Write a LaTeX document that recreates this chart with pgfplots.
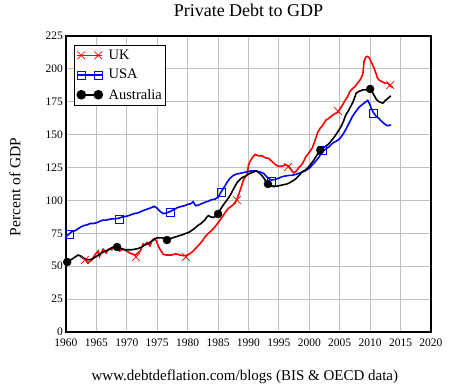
\documentclass[border=0pt]{standalone}
\usepackage{fontspec}
\setmainfont{Liberation Serif}
\usepackage{pgfplots}
\pgfplotsset{compat=1.18}
\pgfplotsset{endmarks/.style={legend image code/.code={\draw[##1,mark=none] (0pt,0pt) -- (25pt,0pt); \draw[##1] plot[only marks] coordinates {(4pt,0pt) (21pt,0pt)};}}}
\begin{document}
\begin{tikzpicture}
\path[use as bounding box] (0,0) rectangle (451pt,385pt);
\begin{axis}[
  at={(66pt,53pt)}, anchor=south west,
  scale only axis, width=365pt, height=296pt,
  xmin=1960, xmax=2020, ymin=0, ymax=225,
  xtick={1960,1965,1970,1975,1980,1985,1990,1995,2000,2005,2010,2015,2020},
  ytick={0,25,50,75,100,125,150,175,200,225},
  grid=major, grid style={gray!50, line width=0.9pt},
  axis line style={line width=1.3pt},
  major tick length=0pt,
  tick label style={font=\fontsize{11.5}{13}\selectfont},
  /pgf/number format/assume math mode=true,
  /pgf/number format/1000 sep={},
  xticklabel style={anchor=base, yshift=-15pt},
  yticklabel style={anchor=east, inner xsep=0pt, xshift=-3pt},
  title={Private Debt to GDP},
  title style={at={(axis description cs:0.5,1)}, anchor=base, yshift=13pt, font=\fontsize{18}{20}\selectfont},
  xlabel={www.debtdeflation.com/blogs (BIS \& OECD data)},
  xlabel style={at={(axis description cs:0.49,0)}, anchor=base, yshift=-49pt, font=\fontsize{15}{17}\selectfont},
  ylabel={Percent of GDP},
  every axis y label/.style={at={(axis description cs:-0.1397,0.49)}, rotate=90, anchor=center, font=\fontsize{15.5}{17}\selectfont},
  legend style={at={(axis description cs:0.022,0.97)}, anchor=north west, draw=black, line width=1pt, fill=white,
    font=\fontsize{14.5}{16}\selectfont, inner xsep=2pt, inner ysep=3pt, row sep=5.5pt, column sep=4pt,
    nodes={inner sep=1.5pt}},
  legend cell align=left,
]
% UK
\addplot[red, line width=1.6pt, forget plot] coordinates {
(1962.4,57.5)(1962.8,56)(1963.2,55)(1963.6,52.5)(1964.0,54)(1964.3,55)(1964.8,59)(1965.3,61.5)(1965.5,57.5)
(1966.1,63)(1966.6,60)(1967.0,63)(1967.5,62.5)(1968.0,65)(1968.3,64)(1968.8,61.5)(1969.4,63)(1970.0,61.5)
(1970.5,60)(1971.0,59)(1971.4,58.5)(1971.8,60)(1972.2,61.5)(1972.7,67)(1973.0,66)(1973.3,68)(1973.8,65.5)
(1974.2,70)(1974.5,71)(1974.9,69)(1975.2,65)(1975.5,62.5)(1976.0,59)(1976.5,58.5)(1977.4,58.5)(1978.0,59.5)
(1978.7,58.5)(1979.3,58)(1980.0,58.5)(1980.5,60)(1980.9,61.5)(1981.7,65.5)(1982.3,68.5)(1982.8,72)(1983.4,75)
(1983.9,77)(1984.5,80)(1985.0,83)(1985.7,87.5)(1986.2,91)(1986.7,94)(1987.3,96)(1987.8,98)(1988.1,101)(1988.5,106)
(1988.8,110)(1989.2,116)(1989.8,120)(1990.0,127)(1990.3,130)(1990.7,133)(1991.1,135)(1991.6,134)(1992.2,134)
(1992.7,132.5)(1993.3,132)(1994.0,129)(1994.5,127)(1994.9,126)(1995.5,126)(1996.0,127)(1996.5,126.5)(1996.9,124)
(1997.4,121)(1997.8,122)(1998.2,124.5)(1998.7,127)(1999.0,129)(1999.4,133)(1999.9,136)(2000.5,140)(2000.9,145)
(2001.4,152)(2001.8,155)(2002.2,157)(2002.7,161)(2003.1,162)(2003.6,164)(2004.2,166)(2004.7,167)(2005.1,170)
(2005.5,173)(2006.0,177)(2006.3,179)(2006.7,183)(2007.1,185)(2007.5,186.5)(2007.9,189)(2008.4,192)(2008.8,196)
(2009.0,206)(2009.3,209)(2009.6,209.5)(2009.9,208)(2010.1,206)(2010.4,203)(2010.7,200)(2011.0,196)(2011.2,193)
(2011.6,191)(2012.1,190)(2012.5,189)(2012.9,189)(2013.3,187)(2013.7,186)
};
\addplot[red, only marks, mark=x, mark size=5.5pt, mark options={red, line width=0.7pt}, forget plot] coordinates {
(1963.1,54.7)(1971.5,57)(1979.7,57)(1988.1,100.3)(1996.5,125.4)(2004.7,168)(2013.3,187.7)
};
% USA
\addplot[blue, line width=1.6pt, forget plot] coordinates {
(1960.0,72.5)(1960.5,74.5)(1961.0,76.5)(1961.5,77)(1962.0,78.5)(1962.5,80)(1963.0,81)(1963.5,81.5)(1964.0,82.5)
(1964.5,82.5)(1965.0,83)(1965.5,84)(1966.0,85)(1966.5,85)(1967.0,85.5)(1967.5,86)(1968.0,86)(1968.7,86.5)
(1969.3,87.5)(1970.0,88)(1970.6,89)(1971.2,90)(1971.8,90.5)(1972.3,91.5)(1972.8,92.5)(1973.4,93.5)(1974.0,94.5)
(1974.5,95.5)(1975.0,94)(1975.5,91.5)(1976.0,90)(1976.5,90.5)(1977.1,91.5)(1977.7,93)(1978.3,94.5)(1979.0,95.5)
(1979.5,96)(1980.0,97)(1980.5,97.5)(1980.9,99)(1981.3,96)(1981.8,96.5)(1982.3,97.5)(1982.8,98.5)(1983.4,99.5)
(1983.9,100.5)(1984.5,101)(1985.0,102.5)(1985.5,106.5)(1986.0,110)(1986.5,114)(1987.0,117)(1987.5,119)(1988.0,120)
(1988.5,120.5)(1989.0,121)(1989.5,121.5)(1990.0,122)(1990.5,122.5)(1991.0,122.5)(1991.5,122)(1992.0,121.5)
(1992.5,120.5)(1993.0,118)(1993.4,116.5)(1993.8,115.5)(1994.4,116)(1995.0,117)(1995.5,118)(1996.0,118.5)
(1996.6,119)(1997.1,119)(1997.9,120)(1998.5,121)(1999.3,122.5)(2000.0,124.5)(2000.5,127)(2001.0,129.5)
(2001.6,133)(2002.1,137)(2002.7,139)(2003.3,141)(2003.8,143.5)(2004.4,145)(2004.9,146.5)(2005.5,150)(2006.0,154)
(2006.5,158.5)(2007.1,164)(2007.7,168)(2008.2,171)(2008.6,172.5)(2009.0,174)(2009.3,175)(2009.6,176)(2009.9,173.5)
(2010.1,171)(2010.5,167)(2010.9,164.5)(2011.5,162)(2011.9,160)(2012.3,158.5)(2012.7,157)(2013.1,157)(2013.4,157.5)
};
\addplot[blue, only marks, mark=square, mark size=4pt, mark options={blue, line width=0.8pt}, forget plot] coordinates {
(1960.5,74.5)(1968.7,85.9)(1977.1,91.2)(1985.5,106.4)(1993.7,114.8)(2002.1,138.3)(2010.5,166.5)
};
% Australia
\addplot[black, line width=1.6pt, forget plot] coordinates {
(1960.0,53)(1960.5,54)(1961.0,55.5)(1961.5,57)(1962.0,58.5)(1962.5,57.5)(1963.0,56)(1963.5,55)(1964.0,55)
(1964.5,56)(1965.0,57.5)(1965.5,59)(1966.0,60.5)(1966.5,61.5)(1967.0,62.5)(1967.5,64)(1968.0,65)(1968.4,65)
(1968.8,64)(1969.3,63)(1969.8,62.5)(1970.3,62.5)(1970.8,62.5)(1971.4,63)(1971.9,63.5)(1972.4,64.5)(1972.9,66)
(1973.4,67)(1973.9,68.5)(1974.4,70)(1974.9,71.5)(1975.4,71.5)(1975.9,71.5)(1976.6,70.5)(1977.2,71)(1977.8,72)
(1978.5,73)(1979.2,74)(1979.7,75)(1980.1,75.5)(1980.6,77)(1981.2,79)(1981.7,81)(1982.2,82.5)(1982.8,85)
(1983.1,87)(1983.4,88.5)(1983.8,87.5)(1984.2,87)(1984.6,88)(1985.0,90)(1985.5,94)(1986.0,97.5)(1986.5,100.5)
(1987.0,104)(1987.4,107.5)(1987.8,111)(1988.2,114)(1988.6,116)(1989.0,117.5)(1989.5,118.5)(1990.0,120)
(1990.5,121)(1991.0,122)(1991.3,122.5)(1991.7,121)(1992.2,119)(1992.6,116.5)(1992.9,114)(1993.2,112.5)
(1993.7,111)(1994.2,110.5)(1994.8,111)(1995.3,111.5)(1995.8,112)(1996.3,112.5)(1996.8,113.5)(1997.3,115)
(1997.8,116.5)(1998.3,119)(1998.8,121.5)(1999.3,123)(1999.8,125)(2000.3,128)(2000.8,131)(2001.3,135)
(2001.8,138.5)(2002.3,140)(2002.8,141.5)(2003.3,143.5)(2003.8,146.5)(2004.3,149.5)(2004.8,153)(2005.2,156)
(2005.6,160)(2006.0,165)(2006.4,168)(2006.8,171.5)(2007.2,175)(2007.7,181.5)(2008.2,183)(2008.8,184)
(2009.3,184)(2009.7,184.5)(2010.0,185)(2010.4,182)(2010.7,179.5)(2011.0,177)(2011.3,175.5)(2011.7,174.5)
(2012.1,174)(2012.5,176)(2012.9,177.5)(2013.4,179.5)
};
\addplot[black, only marks, mark=*, mark size=4pt, forget plot] coordinates {
(1960.2,53.2)(1968.4,64.6)(1976.6,69.9)(1985.0,89.7)(1993.2,112.5)(2001.8,138.3)(2010.0,184.7)
};
\addlegendimage{red, line width=1.6pt, mark=x, mark size=5.5pt, mark options={red, line width=0.7pt}, endmarks}
\addlegendentry{UK}
\addlegendimage{blue, line width=1.6pt, mark=square, mark size=4pt, mark options={blue, line width=0.8pt}, endmarks}
\addlegendentry{USA}
\addlegendimage{black, line width=1.6pt, mark=*, mark size=4pt, mark options={black, fill=black}, endmarks}
\addlegendentry{Australia}
\end{axis}
\end{tikzpicture}
\end{document}
